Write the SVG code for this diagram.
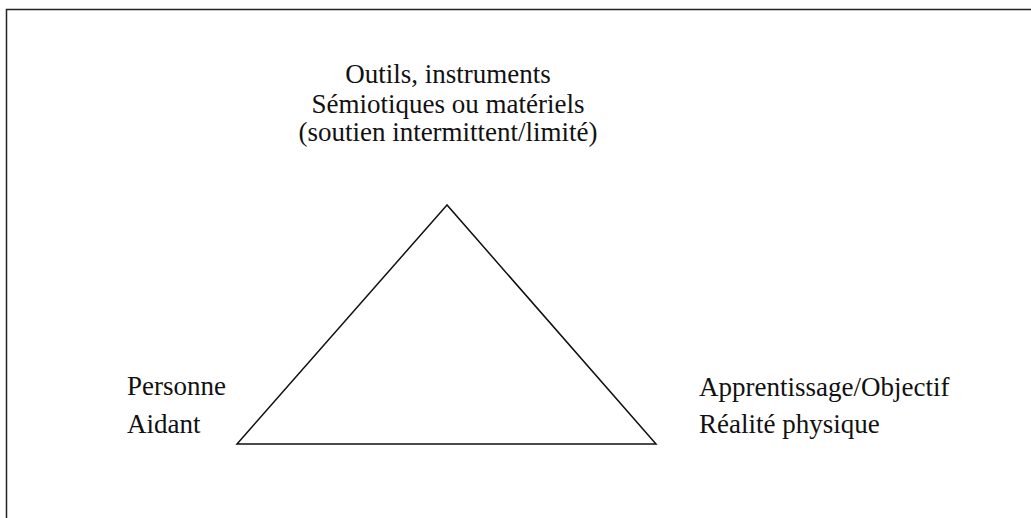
<svg xmlns="http://www.w3.org/2000/svg" width="1031" height="518" viewBox="0 0 1031 518">
  <style>
    text { font-family: 'Liberation Serif', 'Times New Roman', 'DejaVu Serif', serif; font-size: 27px; fill: #111; }
    .mid { text-anchor: middle; }
    .edge { fill: none; stroke: #111; stroke-width: 1.5; }
    .frame { fill: none; stroke: #222; stroke-width: 1.5; }
  </style>
  <rect width="1031" height="518" fill="#fff"/>
  <!-- frame: only top and left edges fall inside the page -->
  <path class="frame" d="M6.5 530 V9.5 H1040"/>
  <g id="connectors">
    <path class="edge" d="M447 205 L237 444 L656 444 Z"/>
  </g>
  <g id="node-outils">
    <text class="mid" x="448" y="83">Outils, instruments</text>
    <text class="mid" x="448" y="113">Sémiotiques ou matériels</text>
    <text class="mid" x="448" y="141">(soutien intermittent/limité)</text>
  </g>
  <g id="node-personne">
    <text x="127" y="395">Personne</text>
    <text x="127" y="433">Aidant</text>
  </g>
  <g id="node-apprentissage">
    <text x="699" y="396">Apprentissage/Objectif</text>
    <text x="699" y="433">Réalité physique</text>
  </g>
</svg>
